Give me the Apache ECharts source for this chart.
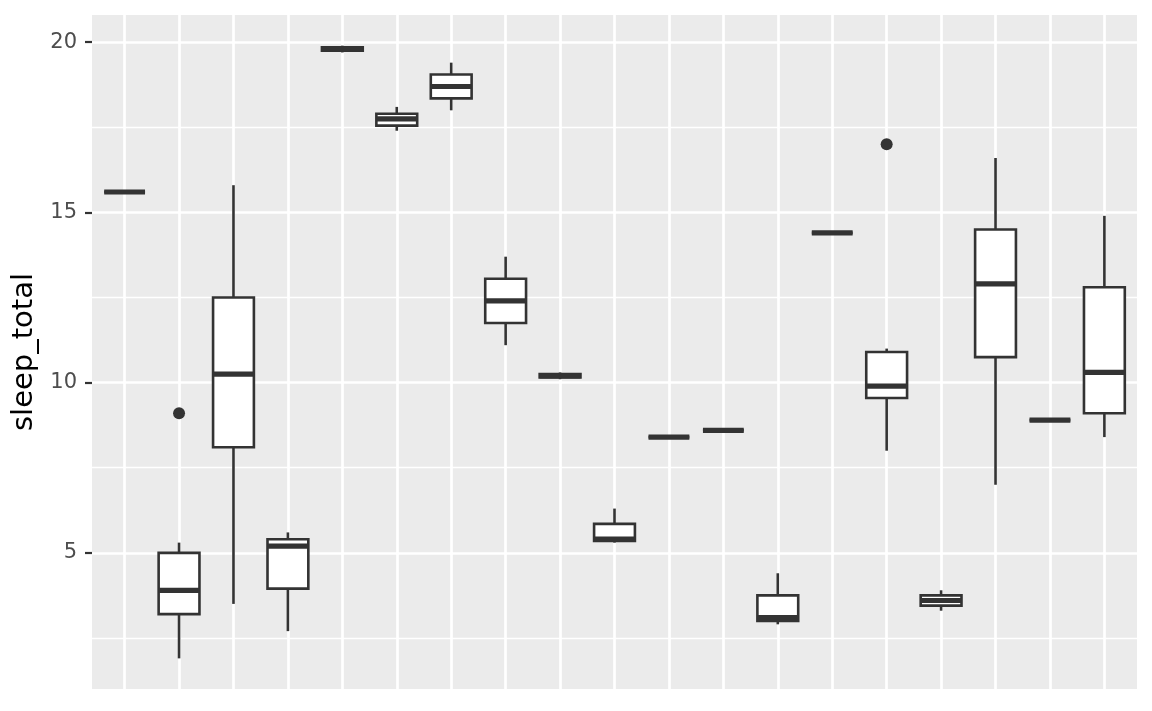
<!DOCTYPE html>
<html>
<head>
<meta charset="utf-8">
<script src="https://cdn.jsdelivr.net/npm/echarts@6/dist/echarts.min.js"></script>
<style>
  html, body { margin: 0; padding: 0; background: #fff; }
  #main { width: 1152px; height: 711px; }
</style>
</head>
<body>
<div id="main"></div>
<script>
const chart = echarts.init(document.getElementById('main'));

// one box per order, x labels are not drawn in the original
const categories = [
  'Afrosoricida', 'Artiodactyla', 'Carnivora', 'Cetacea', 'Chiroptera',
  'Cingulata', 'Didelphimorphia', 'Diprotodontia', 'Erinaceomorpha', 'Hyracoidea',
  'Lagomorpha', 'Monotremata', 'Perissodactyla', 'Pilosa', 'Primates',
  'Proboscidea', 'Rodentia', 'Scandentia', 'Soricomorpha'
];
const lowWhisker    = [15.6, 1.9, 3.5, 2.7, 19.7, 17.4, 18.0, 11.1, 10.1, 5.3, 8.4, 8.6, 2.9, 14.4, 8.0, 3.3, 7.0, 8.9, 8.4];
const lowerQuartile = [15.6, 3.2, 8.1, 3.95, 19.75, 17.55, 18.35, 11.75, 10.15, 5.35, 8.4, 8.6, 3.0, 14.4, 9.55, 3.45, 10.75, 8.9, 9.1];
const medians       = [15.6, 3.9, 10.25, 5.2, 19.8, 17.75, 18.7, 12.4, 10.2, 5.4, 8.4, 8.6, 3.1, 14.4, 9.9, 3.6, 12.9, 8.9, 10.3];
const upperQuartile = [15.6, 5.0, 12.5, 5.4, 19.85, 17.9, 19.05, 13.05, 10.25, 5.85, 8.4, 8.6, 3.75, 14.4, 10.9, 3.75, 14.5, 8.9, 12.8];
const highWhisker   = [15.6, 5.3, 15.8, 5.6, 19.9, 18.1, 19.4, 13.7, 10.3, 6.3, 8.4, 8.6, 4.4, 14.4, 11.0, 3.9, 16.6, 8.9, 14.9];
const outlierCategory = [1, 14];
const outlierValue    = [9.1, 17.0];

const majorTicks = [5, 10, 15, 20];
const minorTicks = [2.5, 7.5, 12.5, 17.5];
const yMin = 1.0;
const yMax = 20.8;

const boxes = categories.map((c, i) => [i, lowWhisker[i], lowerQuartile[i], medians[i], upperQuartile[i], highWhisker[i]]);
const outliers = outlierCategory.map((c, i) => [c, outlierValue[i]]);

const ink = '#333333';

function renderBox(params, api) {
  const x = api.value(0);
  const half = api.size([1, 0])[0] * 0.375;
  const lo = api.coord([x, api.value(1)]);
  const q1 = api.coord([x, api.value(2)]);
  const md = api.coord([x, api.value(3)]);
  const q3 = api.coord([x, api.value(4)]);
  const hi = api.coord([x, api.value(5)]);
  const line = { stroke: ink, lineWidth: 2.6 };
  return {
    type: 'group',
    children: [
      { type: 'line', shape: { x1: lo[0], y1: lo[1], x2: q1[0], y2: q1[1] }, style: line },
      { type: 'line', shape: { x1: q3[0], y1: q3[1], x2: hi[0], y2: hi[1] }, style: line },
      {
        type: 'rect',
        shape: { x: q3[0] - half, y: q3[1], width: half * 2, height: q1[1] - q3[1] },
        style: { fill: '#ffffff', stroke: ink, lineWidth: 2.6 }
      },
      {
        type: 'line',
        shape: { x1: md[0] - half, y1: md[1], x2: md[0] + half, y2: md[1] },
        style: { stroke: ink, lineWidth: 5.2 }
      }
    ]
  };
}

chart.setOption({
  animation: false,
  backgroundColor: '#ffffff',
  textStyle: { fontFamily: 'DejaVu Sans' },
  grid: [
    // data area: ggplot keeps 0.6 of a category free at each side
    { left: 97.4, right: 20.4, top: 15, bottom: 22 },
    // grey panel
    { left: 92, right: 15, top: 15, bottom: 22, show: true, backgroundColor: '#EBEBEB', borderWidth: 0 }
  ],
  xAxis: [
    {
      gridIndex: 0,
      type: 'category',
      data: categories,
      boundaryGap: true,
      axisLine: { show: false },
      axisTick: { show: false, interval: 0 },
      axisLabel: { show: false, interval: 0 },
      splitLine: { show: true, interval: 0, alignWithLabel: true, lineStyle: { color: '#ffffff', width: 2.7 } }
    },
    { gridIndex: 1, type: 'value', show: false, min: 0, max: 1 }
  ],
  yAxis: [
    { gridIndex: 0, type: 'value', min: yMin, max: yMax, show: false },
    {
      gridIndex: 1,
      type: 'value',
      min: yMin,
      max: yMax,
      name: 'sleep_total',
      nameLocation: 'middle',
      nameRotate: 90,
      nameGap: 47,
      nameTextStyle: { fontSize: 29, color: '#000000', fontFamily: 'DejaVu Sans' },
      axisLine: { show: false },
      axisTick: { show: true, length: 7, customValues: majorTicks, lineStyle: { color: ink, width: 2.2 } },
      axisLabel: { show: true, customValues: majorTicks, margin: 15, fontSize: 21, color: '#4D4D4D', fontFamily: 'DejaVu Sans' },
      splitLine: { show: true, lineStyle: { color: '#ffffff', width: 2.7 } }
    },
    {
      gridIndex: 1,
      type: 'value',
      min: yMin,
      max: yMax,
      axisLine: { show: false },
      axisTick: { show: false, customValues: minorTicks },
      axisLabel: { show: false },
      splitLine: { show: true, lineStyle: { color: '#ffffff', width: 1.4 } }
    }
  ],
  series: [
    {
      type: 'custom',
      xAxisIndex: 0,
      yAxisIndex: 0,
      renderItem: renderBox,
      encode: { x: 0, y: [1, 2, 3, 4, 5] },
      data: boxes,
      z: 3
    },
    {
      type: 'scatter',
      xAxisIndex: 0,
      yAxisIndex: 0,
      data: outliers,
      symbol: 'circle',
      symbolSize: 12,
      itemStyle: { color: ink, opacity: 1 },
      z: 4
    }
  ]
});
</script>
</body>
</html>
